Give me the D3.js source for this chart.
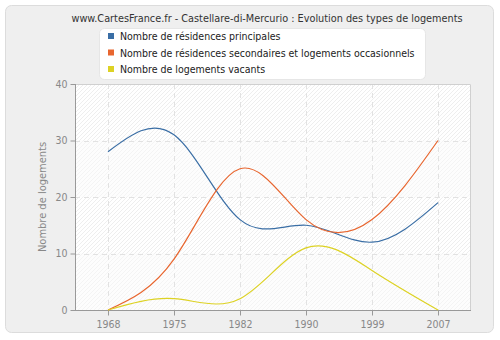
<!DOCTYPE html>
<html><head><meta charset="utf-8">
<script src="https://cdn.jsdelivr.net/npm/d3@7/dist/d3.min.js"></script>
<style>body{margin:0;background:#fff;}svg{display:block;font-family:"DejaVu Sans Condensed","DejaVu Sans",sans-serif;font-stretch:condensed;}</style>
</head><body>
<svg id="c" width="500" height="340"></svg>
<script>
const years = ["1968","1975","1982","1990","1999","2007"];
const principales = [28, 31, 16, 15, 12, 19];
const secondaires = [0, 9, 25, 16, 16, 30];
const vacants = [0, 2, 2, 11, 7, 0];
const seriesNames = ["Nombre de résidences principales","Nombre de résidences secondaires et logements occasionnels","Nombre de logements vacants"];
const colors = ["#3a6ea5","#e8662f","#ddd224"];
const yTicks = [0,10,20,30,40];
const title = "www.CartesFrance.fr - Castellare-di-Mercurio : Evolution des types de logements";

const FONT = "'DejaVu Sans Condensed','DejaVu Sans',sans-serif";
const svg = d3.select("#c");
const defs = svg.append("defs");
const pat = defs.append("pattern").attr("id","hatch").attr("patternUnits","userSpaceOnUse")
  .attr("width",4).attr("height",4);
pat.append("rect").attr("width",4).attr("height",4).attr("fill","#ffffff");
pat.append("path").attr("d","M-1,1 l2,-2 M0,4 l4,-4 M3,5 l2,-2").attr("stroke","#eeeeee").attr("stroke-width",1);

svg.append("rect").attr("x",5.5).attr("y",5.5).attr("width",488).attr("height",327).attr("rx",6)
  .attr("fill","#efefef").attr("stroke","#dcdcdc");

const L = 75, R = 471, T = 84, B = 310;
const x = d3.scalePoint().domain(years).range([L, R]).padding(0.5);
const y = d3.scaleLinear().domain([0,40]).range([B, T]);

const bands = [[0,10,false],[10,20,true],[20,30,false],[30,40,true]];
svg.append("g").selectAll("rect").data(bands).join("rect")
  .attr("x",L).attr("width",R-L)
  .attr("y",d=>y(d[1])).attr("height",d=>y(d[0])-y(d[1]))
  .attr("fill",d=>d[2]?"url(#hatch)":"#fafafa");
svg.append("rect").attr("x",L).attr("y",T).attr("width",R-L).attr("height",B-T)
  .attr("fill","url(#hatch)").attr("opacity",0.5);

const grid = svg.append("g").attr("stroke","#e2e2e2").attr("stroke-dasharray","5,4").attr("stroke-width",1);
grid.selectAll(".h").data(yTicks.filter(v=>v>0&&v<40)).join("line")
  .attr("x1",L).attr("x2",R).attr("y1",d=>Math.round(y(d))+0.5).attr("y2",d=>Math.round(y(d))+0.5);
grid.selectAll(".v").data(years).join("line")
  .attr("y1",T).attr("y2",B).attr("x1",d=>Math.round(x(d))+0.5).attr("x2",d=>Math.round(x(d))+0.5);

svg.append("path").attr("d",`M${L},${T+0.5}H${R-0.5}V${B}`).attr("fill","none").attr("stroke","#d0d0d0");

const ya = svg.append("g").attr("transform",`translate(${L+0.5},0)`)
  .call(d3.axisLeft(y).tickValues(yTicks).tickSize(5).tickPadding(3));
const xa = svg.append("g").attr("transform",`translate(0,${B+0.5})`)
  .call(d3.axisBottom(x).tickSize(5).tickPadding(5));
[ya,xa].forEach(a=>{
  a.select(".domain").attr("stroke","#999");
  a.selectAll(".tick line").attr("stroke","#999");
  a.selectAll("text").attr("fill","#888").attr("font-size",10.5).attr("font-family",FONT);
});
xa.select(".domain").attr("d",`M${L},0H${R}`);
ya.select(".domain").attr("d",`M0,${T}V${B}`);

svg.append("text").attr("transform",`translate(46,${(T+B)/2}) rotate(-90)`)
  .attr("text-anchor","middle").attr("fill","#888").attr("font-size",11).text("Nombre de logements");

const line = d3.line().x((d,i)=>x(years[i])).y(d=>y(d)).curve(d3.curveNatural);
const data = [principales, secondaires, vacants];
svg.append("g").selectAll("path").data(data).join("path")
  .attr("d",d=>line(d)).attr("fill","none").attr("stroke",(d,i)=>colors[i]).attr("stroke-width",1.2);

svg.append("text").attr("x",267).attr("y",22).attr("text-anchor","middle").attr("fill","#333")
  .attr("font-size",10.8).text(title);

svg.append("rect").attr("x",99.5).attr("y",28.5).attr("width",326).attr("height",51).attr("rx",5)
  .attr("fill","#fff").attr("stroke","#e6e6e6");
const lg = svg.append("g").selectAll("g").data(seriesNames).join("g")
  .attr("transform",(d,i)=>`translate(108,${33+i*16.5})`);
lg.append("rect").attr("width",6).attr("height",6).attr("fill",(d,i)=>colors[i]);
lg.append("text").attr("x",12).attr("y",7).attr("font-size",10.5).attr("fill","#222").text(d=>d);
</script>
</body></html>
